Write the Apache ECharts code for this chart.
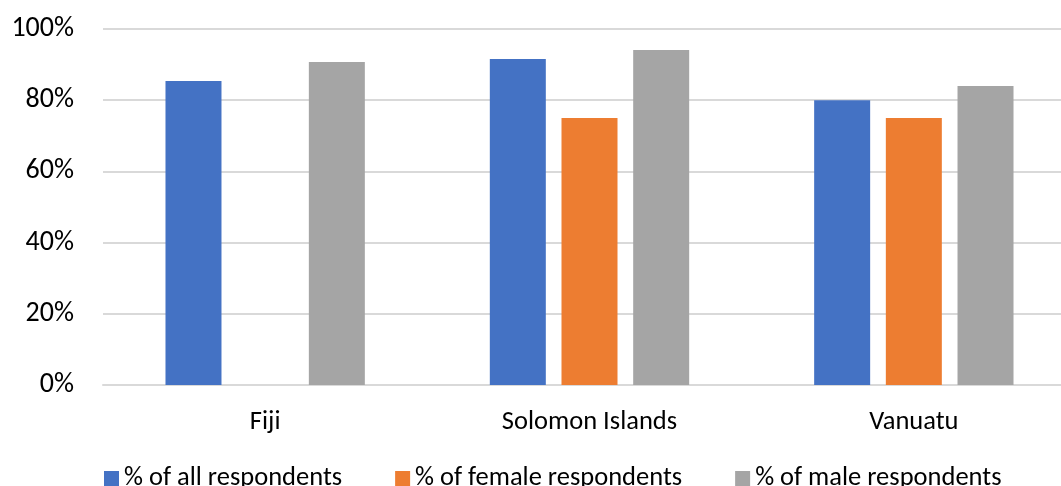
<!DOCTYPE html>
<html>
<head>
<meta charset="utf-8">
<script src="https://cdn.jsdelivr.net/npm/echarts@6/dist/echarts.min.js"></script>
<style>
  html, body { margin: 0; padding: 0; background: #fff; }
  #chart { width: 1061px; height: 486px; }
</style>
</head>
<body>
<div id="chart"></div>
<script>
// Share of respondents by country (percent)
const countries = ['Fiji', 'Solomon Islands', 'Vanuatu'];
const allRespondents = [85.4, 91.6, 80.0];
const femaleRespondents = [null, 75.0, 75.0];
const maleRespondents = [90.7, 94.1, 84.0];
const seriesNames = ['% of all respondents', '% of female respondents', '% of male respondents'];
const seriesColors = ['#4472C4', '#ED7D31', '#A5A5A5'];
const yTicks = [0, 20, 40, 60, 80, 100];

const FONT = 'Carlito, Lato, sans-serif';
const chart = echarts.init(document.getElementById('chart'), null, { renderer: 'canvas' });

const values = [allRespondents, femaleRespondents, maleRespondents];

chart.setOption({
  animation: false,
  textStyle: { fontFamily: FONT },
  grid: { left: 103, top: 29, bottom: 101, width: 973, outerBoundsMode: 'none' },
  legend: {
    data: seriesNames,
    left: 104,
    top: 465,
    padding: 0,
    itemWidth: 15,
    itemHeight: 15,
    itemGap: 53,
    icon: 'rect',
    textStyle: { fontFamily: FONT, fontSize: 26.5, color: '#000' }
  },
  xAxis: {
    type: 'category',
    data: countries,
    axisTick: { show: false },
    axisLine: { lineStyle: { color: '#D9D9D9', width: 2 } },
    axisLabel: { fontFamily: FONT, fontSize: 26.5, color: '#000', margin: 24 }
  },
  yAxis: {
    type: 'value',
    min: yTicks[0],
    max: yTicks[yTicks.length - 1],
    interval: yTicks[1] - yTicks[0],
    axisLine: { show: false },
    axisTick: { show: false },
    splitLine: { lineStyle: { color: '#D9D9D9', width: 2 } },
    axisLabel: { fontFamily: FONT, fontSize: 28, color: '#000', margin: 29, formatter: v => v + '%' }
  },
  series: seriesNames.map((name, i) => ({
    name: name,
    type: 'bar',
    data: values[i],
    barWidth: 56,
    barGap: '28%',
    itemStyle: { color: seriesColors[i] }
  }))
});
</script>
</body>
</html>
